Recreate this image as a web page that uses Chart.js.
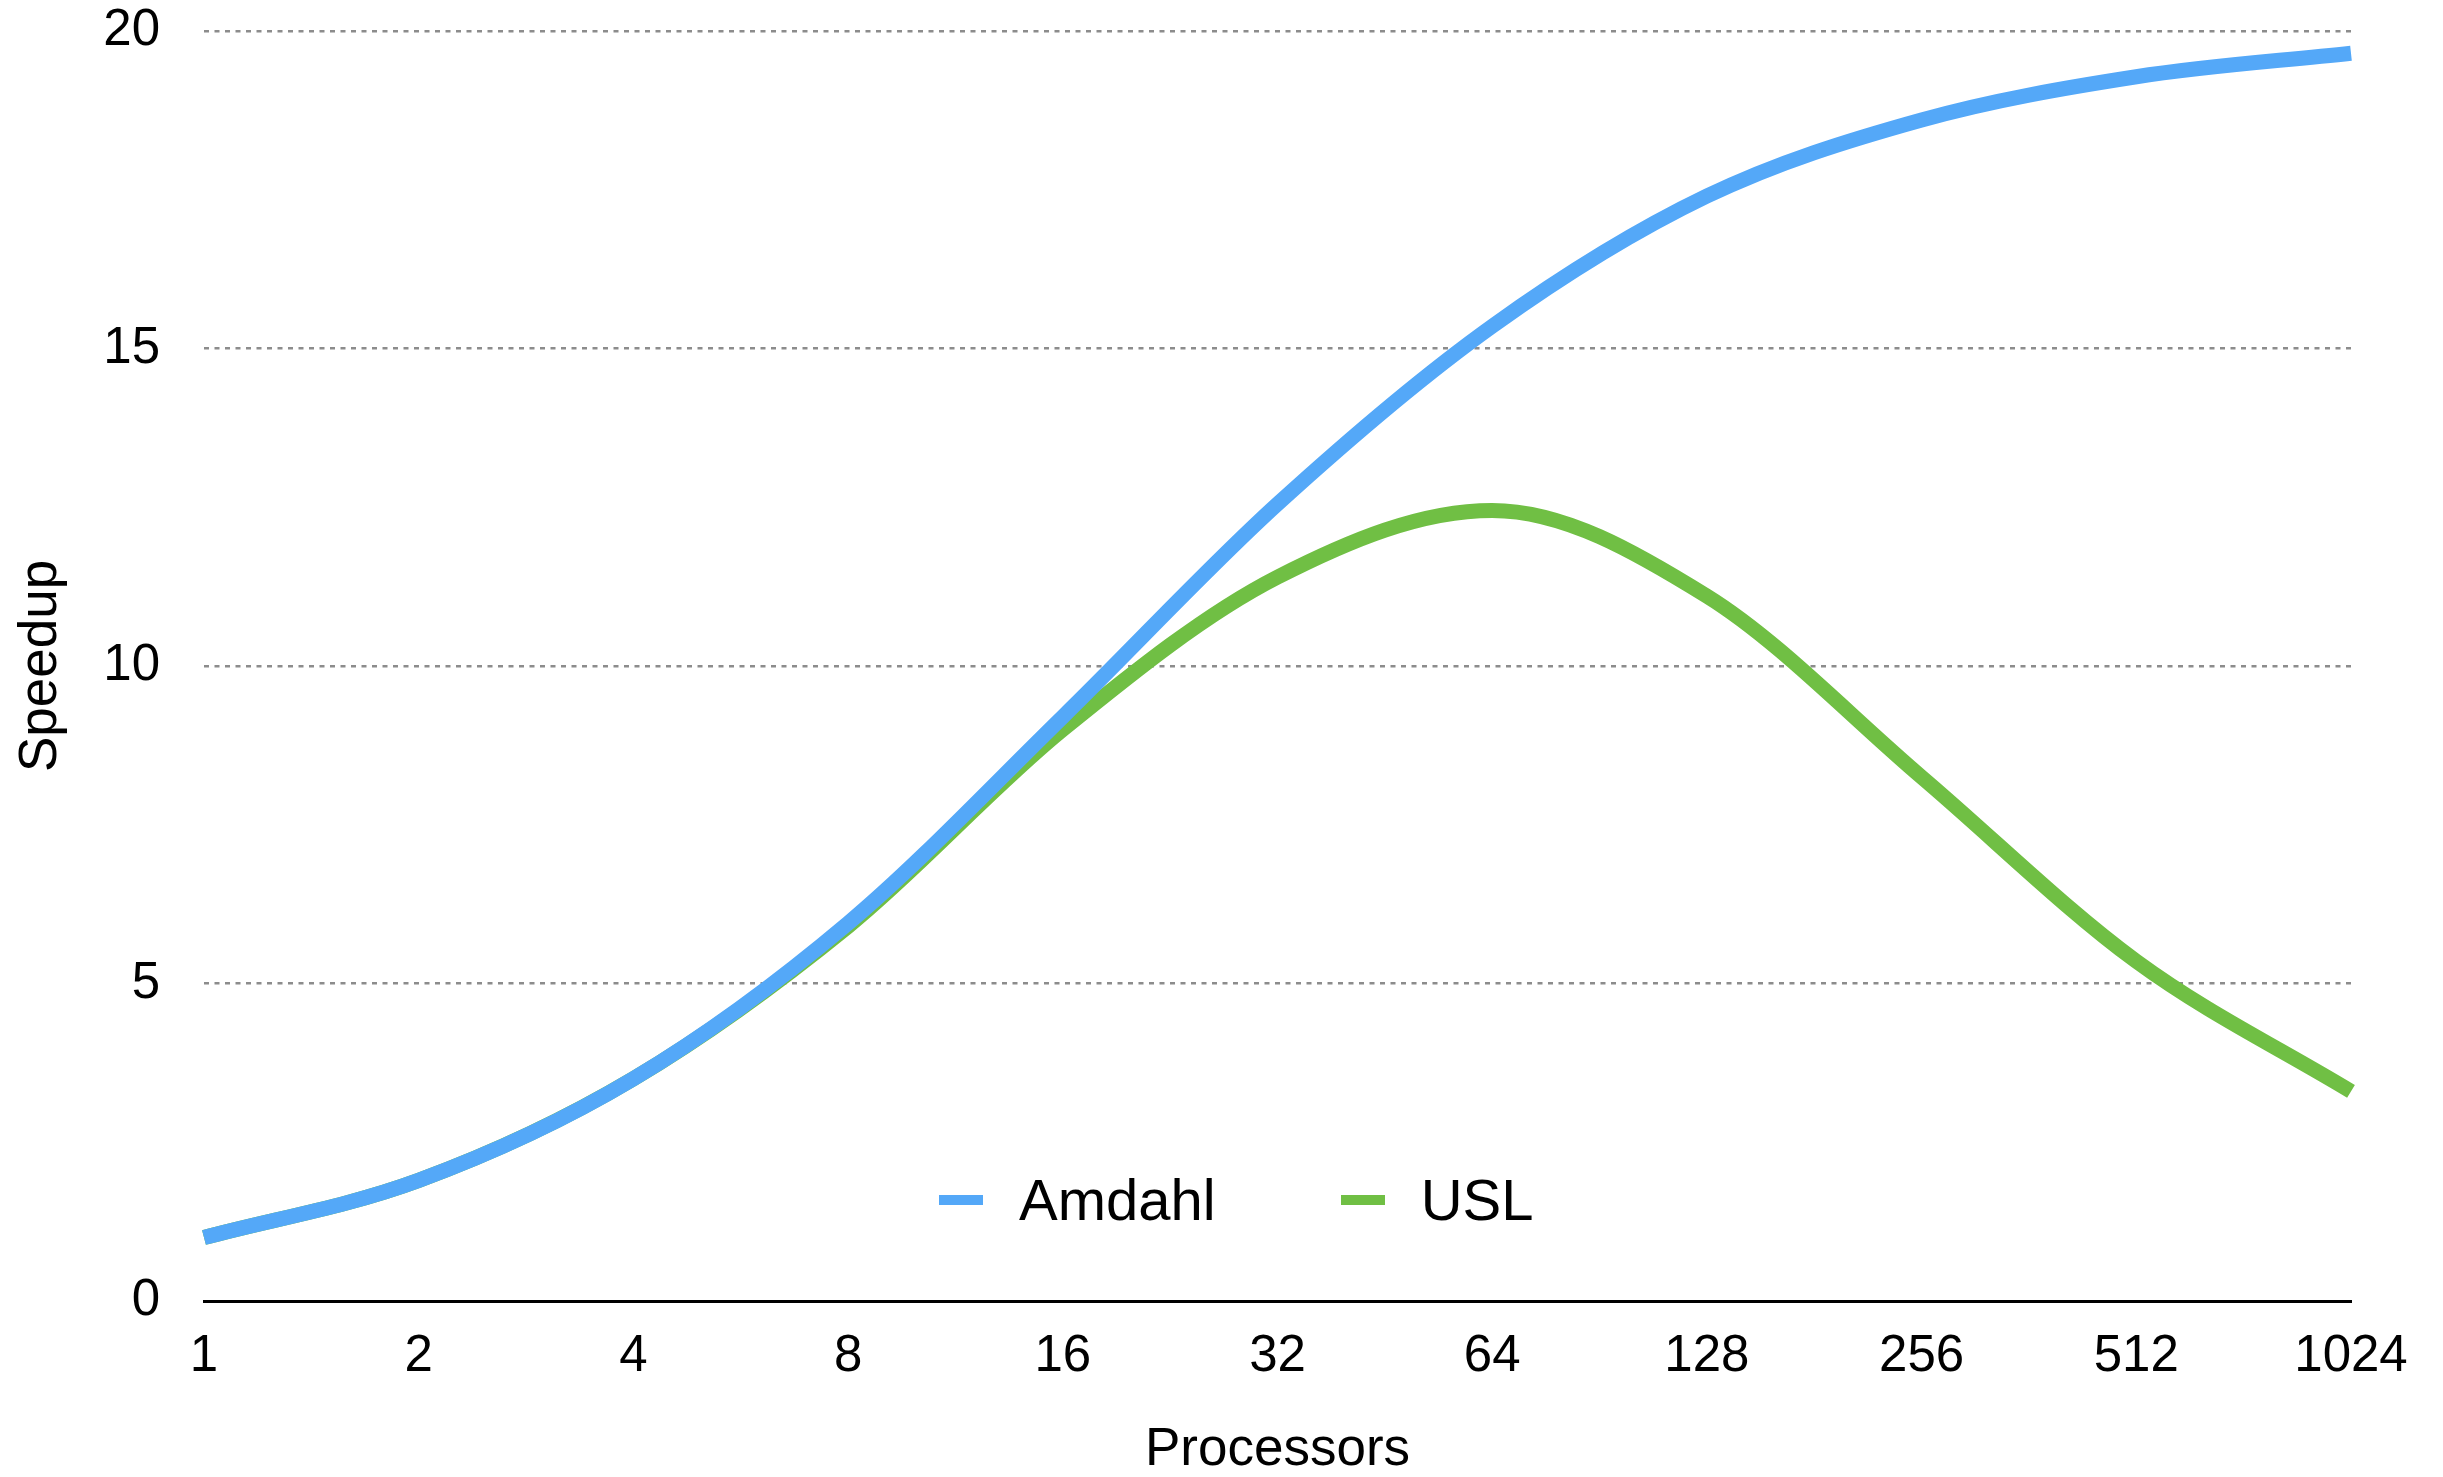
<!DOCTYPE html>
<html>
<head>
<meta charset="utf-8">
<script src="https://cdn.jsdelivr.net/npm/chart.js@4.4.1/dist/chart.umd.min.js"></script>
<style>
  html, body { margin: 0; padding: 0; background: #fff; }
  #wrap { position: relative; width: 2443px; height: 1477px; }
  #legend { position: absolute; left: 939px; top: 1166px; display: flex; align-items: center;
    font-family: "Liberation Sans", Arial, sans-serif; font-size: 58px; color: #000; }
  .item { display: flex; align-items: center; margin-right: 125px; }
  .swatch { width: 44px; height: 10px; margin-right: 36px; }
</style>
</head>
<body>
<div id="wrap">
  <canvas id="chart"></canvas>
  <div id="legend"></div>
</div>
<script>
const processors = ['1', '2', '4', '8', '16', '32', '64', '128', '256', '512', '1024'];
const amdahl = [1.0, 1.9, 3.5, 5.95, 9.2, 12.55, 15.35, 17.4, 18.6, 19.28, 19.65];
const usl = [1.0, 1.9, 3.5, 5.9, 9.0, 11.4, 12.45, 11.1, 8.25, 5.35, 3.3];
const yTicks = [0, 5, 10, 15, 20];

const FONT = '"Liberation Sans", Arial, sans-serif';
const BLUE = '#54a8f8';
const GREEN = '#70bf44';

const ctx = document.getElementById('chart').getContext('2d');
const chart = new Chart(ctx, {
  type: 'line',
  data: {
    labels: processors,
    datasets: [
      { label: 'Amdahl', data: amdahl, borderColor: BLUE, backgroundColor: BLUE, borderWidth: 15 },
      { label: 'USL', data: usl, borderColor: GREEN, backgroundColor: GREEN, borderWidth: 15 }
    ]
  },
  options: {
    responsive: true,
    maintainAspectRatio: false,
    animation: false,
    layout: { padding: { left: 4, right: 92, top: 31, bottom: 0 } },
    elements: {
      line: { cubicInterpolationMode: 'monotone', borderCapStyle: 'butt', borderJoinStyle: 'round' },
      point: { radius: 0, hoverRadius: 0 }
    },
    plugins: { legend: { display: false }, tooltip: { enabled: false } },
    scales: {
      x: {
        offset: false,
        grid: { display: false, drawTicks: false },
        border: { display: true, color: '#000', width: 3 },
        ticks: { color: '#000', padding: 25, maxRotation: 0, autoSkip: false, font: { family: FONT, size: 51 } },
        title: { display: true, text: 'Processors', color: '#000', padding: 0, font: { family: FONT, size: 53, lineHeight: 1 } },
        afterFit: s => { s.height = 176; }
      },
      y: {
        min: 0,
        max: 20,
        afterBuildTicks: s => { s.ticks = yTicks.map(v => ({ value: v })); },
        grid: {
          drawTicks: false,
          color: c => c.tick && c.tick.value === 0 ? 'rgba(0,0,0,0)' : '#8c8c8c',
          lineWidth: 2.5
        },
        border: { display: false, dash: [5, 5.5] },
        ticks: { color: '#000', padding: 44, font: { family: FONT, size: 51 } },
        title: { display: true, text: 'Speedup', color: '#000', padding: { top: 6, bottom: 4 }, font: { family: FONT, size: 53, lineHeight: 1.2 } },
        afterFit: s => { s.width = 200; s.paddingTop = 0; s.paddingBottom = 0; }
      }
    }
  }
});

// html legend built from the datasets
const legend = document.getElementById('legend');
legend.innerHTML = chart.data.datasets.map(ds =>
  `<div class="item"><span class="swatch" style="background:${ds.borderColor}"></span><span>${ds.label}</span></div>`
).join('');
</script>
</body>
</html>
